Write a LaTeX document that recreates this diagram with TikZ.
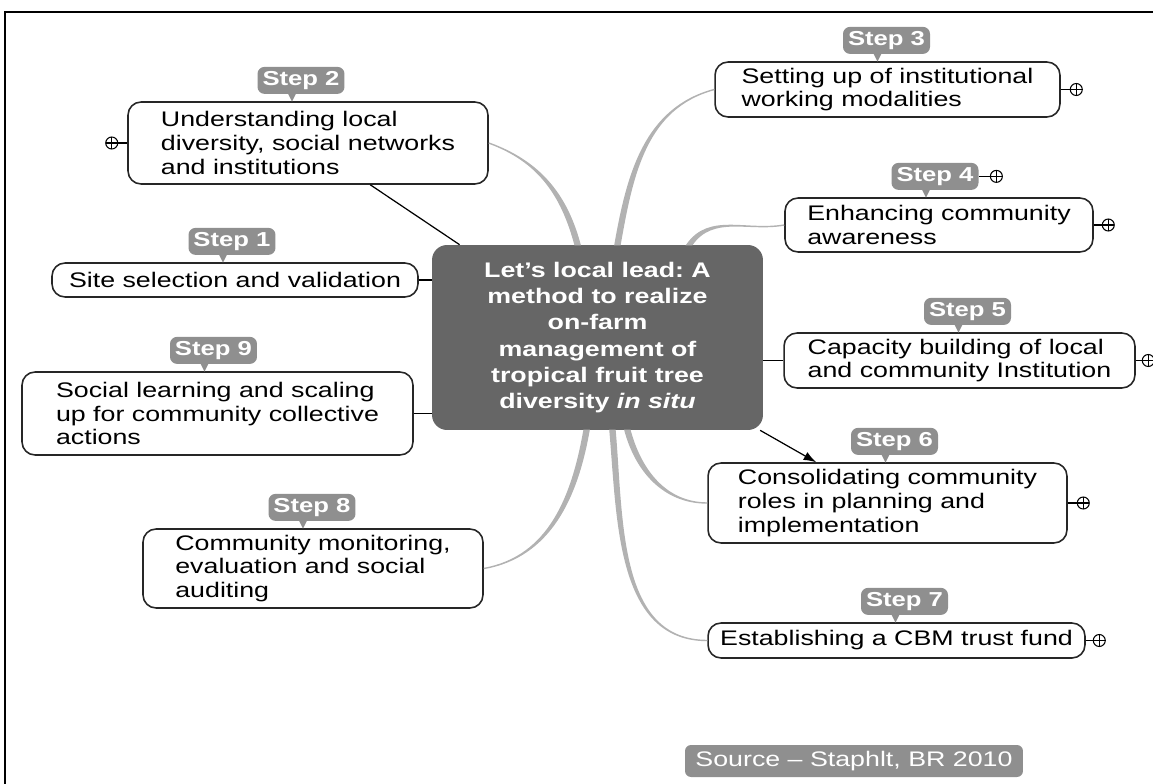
\documentclass[tikz,border=0pt]{standalone}
\usepackage{fontspec}
\setmainfont[FakeStretch=1.27]{Liberation Sans}
\usetikzlibrary{positioning,calc,arrows.meta}
\frenchspacing
\definecolor{taggray}{gray}{0.56}
\definecolor{centergray}{gray}{0.4}
\definecolor{branchgray}{gray}{0.7}
\tikzset{
  stepbox/.style={draw=black!85, line width=0.9pt, rounded corners=0.26cm, fill=white, align=left, inner sep=0pt, font=\fontsize{12}{13.6}\selectfont},
  steptag/.style={fill=taggray, rounded corners=0.14cm, text=white, font=\fontsize{11.5}{12}\selectfont\bfseries, minimum width=1.74cm, minimum height=0.54cm, inner sep=0pt},
  expander/.style={circle, draw, line width=0.6pt, inner sep=0pt, minimum size=0.24cm,
    path picture={\draw[line width=0.6pt] (path picture bounding box.north) -- (path picture bounding box.south) (path picture bounding box.west) -- (path picture bounding box.east);}},
  branch/.style={fill=branchgray, draw=branchgray, line width=0.8pt},
}
\begin{document}
\begin{tikzpicture}[x=0.02cm, y=0.02cm]
    \useasboundingbox (0,0) rectangle (1153,-784);
    % edge of the scanned page
    \draw[line width=1pt] (5,-784) -- (5,-12) -- (1153,-12);
    % central topic
    \node[fill=centergray, rounded corners=0.3cm, text=white, align=center, minimum width=6.62cm, minimum height=3.7cm, font=\fontsize{12}{15}\selectfont\bfseries] (c) at (597.5,-337.5) {Let’s local lead: A\\method to realize\\on-farm\\management of\\tropical fruit tree\\diversity \textit{in situ}};
    % steps
    \node[stepbox, minimum width=7.32cm, minimum height=0.68cm] (s1) at (235,-280) {Site selection and validation};
    \node[stepbox, minimum width=7.2cm, minimum height=1.64cm] (s2) at (308,-143) {Understanding local\\diversity, social networks\\and institutions};
    \node[stepbox, minimum width=6.9cm, minimum height=1.1cm] (s3) at (887.5,-89.5) {Setting up of institutional\\working modalities};
    \node[stepbox, minimum width=6.16cm, minimum height=1.08cm] (s4) at (939,-225) {Enhancing community\\awareness};
    \node[stepbox, minimum width=7.02cm, minimum height=1.1cm] (s5) at (959.5,-360.5) {Capacity building of local\\and community Institution};
    \node[stepbox, minimum width=7.18cm, minimum height=1.6cm] (s6) at (887.5,-503) {Consolidating community\\roles in planning and\\implementation};
    \node[stepbox, minimum width=7.54cm, minimum height=0.7cm] (s7) at (896.5,-640.5) {Establishing a CBM trust fund};
    \node[stepbox, minimum width=6.8cm, minimum height=1.58cm] (s8) at (313,-568.5) {Community monitoring,\\evaluation and social\\auditing};
    \node[stepbox, minimum width=7.82cm, minimum height=1.66cm] (s9) at (217.5,-413.5) {Social learning and scaling\\up for community collective\\actions};
    % grey branches
    \coordinate (b2) at ($(c.north)+(-20,0)$);
    \coordinate (b3) at ($(c.north)+(20,0)$);
    \coordinate (b4) at ($(c.north)+(92,0)$);
    \coordinate (b6) at ($(c.south)+(30,0)$);
    \coordinate (b7) at ($(c.south)+(15,0)$);
    \coordinate (b8) at ($(c.south)+(-11,0)$);
    \foreach \a/\o/\i/\b in {b2/105/-20/s2.east, b3/80/195/s3.west, b4/55/190/s4.west, b6/-75/180/s6.west, b7/-85/180/s7.west, b8/-100/10/s8.east}
        \filldraw[branch] ($(\a)+(-2.5,0)$) to[out=\o,in=\i] (\b) to[out=\i,in=\o] ($(\a)+(2.5,0)$) -- cycle;
    % black connectors
    \draw[line width=0.7pt] (s2) -- (c);
    \draw[line width=0.7pt] (s1.east) -- (s1.east -| c.west);
    \draw[line width=0.7pt] (s9.east) -- (s9.east -| c.west);
    \draw[line width=0.7pt] (s5.west) -- (s5.west -| c.east);
    \draw[line width=0.7pt, -{Latex[length=0.25cm, width=0.18cm]}] (c) -- (s6);
    % step tags
    \foreach \n/\dx in {1/-3, 2/-7, 3/-1, 4/-4, 5/8, 6/7, 7/8, 8/-1, 9/-4} {
        \node[steptag, above=0.14cm of s\n, xshift=\dx*0.02cm] (t\n) {Step \n};
        \fill[taggray] ($(t\n.south)+(-13,0.5)$) -- ++(4,-8) -- ++(4,8) -- cycle;
    }
    % expand marks
    \node[expander, left=0.18cm of s2] (x2) {};
    \node[expander, right=0.18cm of s3] (x3) {};
    \node[expander, right=0.22cm of t4] (x4t) {};
    \node[expander, right=0.16cm of s4] (x4) {};
    \node[expander, right=0.12cm of s5] (x5) {};
    \node[expander, right=0.18cm of s6] (x6) {};
    \node[expander, right=0.14cm of s7] (x7) {};
    \foreach \a/\b in {x2/s2, x3/s3, x4t/t4, x4/s4, x5/s5, x6/s6, x7/s7}
        \draw[line width=0.6pt] (\a) -- (\b);
    % source
    \node[fill=taggray, rounded corners=0.12cm, text=white, font=\fontsize{12}{14}\selectfont, minimum width=6.76cm, minimum height=0.64cm, inner sep=0pt] (src) at (854,-761) {Source -- Staphlt, BR 2010};
\end{tikzpicture}
\end{document}
